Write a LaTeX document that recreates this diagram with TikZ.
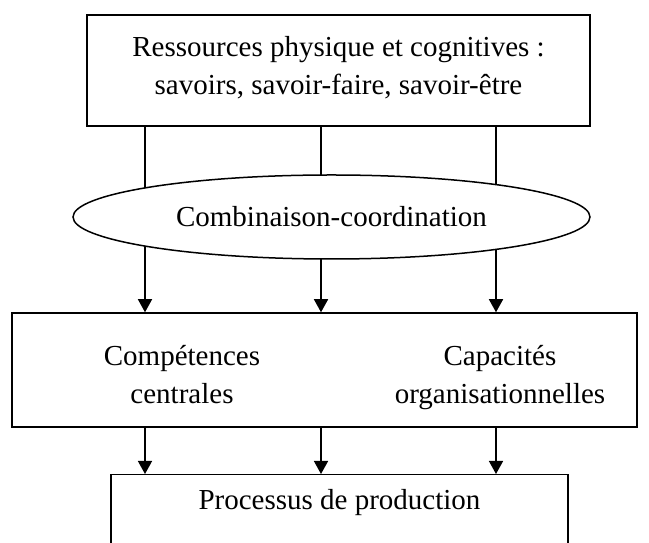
\documentclass[tikz,border=0pt]{standalone}
\usepackage{fontspec}
\setmainfont{Liberation Serif}
\usepackage{tikz}
\usetikzlibrary{shapes.geometric,arrows.meta}

\pgfdeclarelayer{background}
\pgfsetlayers{background,main}

\begin{document}
\begin{tikzpicture}[x=1pt,y=1pt,
		every node/.style={font=\fontsize{29}{38}\selectfont, align=center},
		box/.style={draw, line width=1.5pt, inner sep=0pt},
		link/.style={line width=1.5pt},
		arr/.style={link, -{Triangle[width=14pt,length=13pt]}}]
	\useasboundingbox (0,0) rectangle (649,543);
	% resources, combination, competences, production
	\node[box, minimum width=503pt, minimum height=111pt, text depth=10pt] (res) at (338.5,472.5) {Ressources physique et cognitives :\\savoirs, savoir-faire, savoir-être};
	\node[draw, ellipse, line width=1.5pt, fill=white, minimum width=517pt, minimum height=84pt] (comb) at (331.5,326) {Combinaison-coordination};
	\node[box, minimum width=625pt, minimum height=114pt] (mid) at (324.5,173) {};
	\node[text depth=7pt] (comp) at (182,165) {Compétences\\centrales};
	\node[text depth=7pt] (capa) at (500,165) {Capacités\\organisationnelles};
	\node[box, minimum width=457pt, anchor=north, inner ysep=15pt, text depth=60pt] (prod) at (339.5,69) {Processus de production};
	% the three columns
	\foreach \x [count=\i] in {145,321,496}
		\coordinate (col\i) at (\x,0);
	\begin{pgfonlayer}{background}
		\foreach \i in {1,2,3} {
			\draw[link] (res.south -| col\i) -- (comb.center -| col\i);
			\draw[arr] (comb.center -| col\i) -- (mid.north -| col\i);
			\draw[arr] (mid.south -| col\i) -- (prod.north -| col\i);
		}
	\end{pgfonlayer}
\end{tikzpicture}
\end{document}
